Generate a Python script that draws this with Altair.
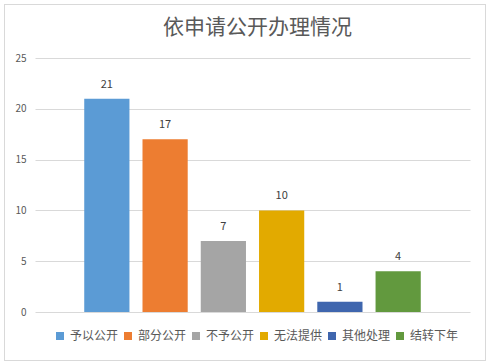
import altair as alt
import pandas as pd

categories = ["予以公开", "部分公开", "不予公开", "无法提供", "其他处理", "结转下年"]
values = [21, 17, 7, 10, 1, 4]
colors = ["#5B9BD5", "#ED7D31", "#A5A5A5", "#E2AA00", "#3F66AE", "#62993E"]
title_text = "依申请公开办理情况"
y_ticks = [0, 5, 10, 15, 20, 25]

df = pd.DataFrame({"cat": categories, "val": values})
FONT = "Noto Sans CJK SC"

x_enc = alt.X("cat:N", sort=categories, axis=None,
              scale=alt.Scale(paddingInner=0.224, paddingOuter=0.845))
y_scale = alt.Scale(domain=[0, 25], nice=False, zero=True)

bars = alt.Chart(df).mark_bar().encode(
    x=x_enc,
    y=alt.Y("val:Q", scale=y_scale,
            axis=alt.Axis(values=y_ticks, title=None, domain=False, ticks=False,
                          labelPadding=9, labelFontSize=10, labelColor="#595959",
                          labelFont=FONT, gridColor="#D9D9D9", gridWidth=1)),
    color=alt.Color("cat:N", sort=categories,
                    scale=alt.Scale(domain=categories, range=colors),
                    legend=alt.Legend(title=None, orient="none", direction="horizontal",
                                      legendX=19, legendY=272, symbolType="square",
                                      symbolSize=64, symbolStrokeWidth=0,
                                      labelFontSize=12, labelColor="#595959",
                                      labelFont=FONT, labelOffset=4,
                                      columnPadding=3)),
)

labels = alt.Chart(df).mark_text(baseline="bottom", dy=-9, fontSize=11,
                                 color="#404040", font=FONT).encode(
    x=x_enc,
    y=alt.Y("val:Q", scale=y_scale),
    text=alt.Text("val:Q"),
)

frame = alt.Chart(df).mark_rect(fill=None, stroke="#D9D9D9", strokeWidth=1).encode(
    x=alt.value(-30.5), x2=alt.value(450.5), y=alt.value(-53.5), y2=alt.value(302.5)
)

title_mark = alt.Chart(pd.DataFrame({"t": [title_text]})).mark_text(
    fontSize=21, font=FONT, color="#595959", align="center", baseline="middle"
).encode(x=alt.value(222.5), y=alt.value(-30), text="t:N")

chart = alt.layer(frame, bars, labels, title_mark).properties(
    width=435,
    height=254,
    autosize=alt.AutoSizeParams(type="none"),
    padding={"left": 35, "top": 58, "right": 18, "bottom": 52},
    background="white",
).configure_view(stroke=None)

chart.save("out.html", embed_options={"renderer": "svg", "actions": False})
